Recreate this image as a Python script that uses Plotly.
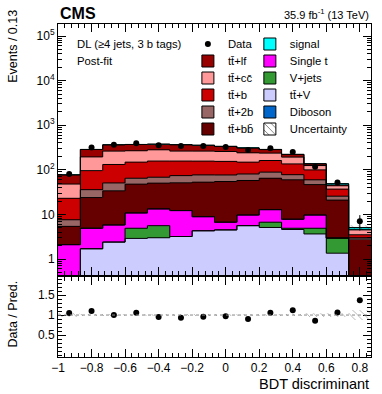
import numpy as np
import plotly.graph_objects as go
from plotly.subplots import make_subplots

# binning of the BDT output: 14 bins of width 2/15 starting at -1
x_lo = -1.0
bin_w = 2.0 / 15
n_bins = 14

# observed events per bin
data_obs = [81, 315, 365, 393, 357, 341, 342, 326, 280, 304, 250, 118, 52, 7]

# post-fit process yields per bin
ttv = [0, 1.7, 2.4, 2.9, 3.0, 3.2, 4.3, 4.5, 5.6, 5.1, 4.6, 3.65, 1.35, 0]
vjets = [0, 0, 0, 2.0, 2.6, 0, 0, 0, 0, 1.6, 0.3, 1.25, 1.6, 0]
single_t = [2.1, 3.2, 3.4, 5.9, 7.7, 9.0, 4.6, 2.2, 4.1, 6.1, 2.9, 4.8, 0, 0]
diboson = [0, 0, 0, 0, 0, 0, 0, 0, 0, 0, 0, 0, 0, 0]
ttbb = [3.3, 19, 28, 37, 37, 39, 44, 48, 48, 52, 52, 37, 18, 2.8]
tt2b = [2.2, 12, 17, 17, 18, 23, 24, 22, 23, 24, 18, 13, 4.7, 0.2]
ttb = [15.4, 60, 81, 84, 89, 83, 80, 78, 68, 73, 58, 40, 11.3, 0.5]
ttcc = [25, 99, 131, 119, 124, 106, 106, 103, 92, 75, 57, 25, 7, 1.0]
ttlf = [29, 91, 101, 102, 94, 102, 92, 77, 68, 48, 28, 11, 4, 0.15]
signal = [0.2, 0.8, 1.0, 1.2, 1.3, 1.4, 1.5, 1.7, 2.0, 2.2, 2.2, 1.8, 0.9, 0.45]

# relative total uncertainty of the prediction
unc_rel = [0.04, 0.03, 0.03, 0.03, 0.03, 0.03, 0.03, 0.03, 0.03, 0.03, 0.035, 0.04, 0.06, 0.13]

# stacking order, bottom to top
processes = [
    ("tt\u0304+V", ttv, "#CCCCFF"),
    ("V+jets", vjets, "#339933"),
    ("Single t", single_t, "#FF00FF"),
    ("Diboson", diboson, "#0066CC"),
    ("tt\u0304+bb\u0304", ttbb, "#660000"),
    ("tt\u0304+2b", tt2b, "#996666"),
    ("tt\u0304+b", ttb, "#CC0000"),
    ("tt\u0304+cc\u0304", ttcc, "#FF9999"),
    ("tt\u0304+lf", ttlf, "#990000"),
    ("signal", signal, "#00FFFF"),
]
# legend layout: two columns of six rows
legend_cols = [
    ["Data", "tt\u0304+lf", "tt\u0304+cc\u0304", "tt\u0304+b", "tt\u0304+2b", "tt\u0304+bb\u0304"],
    ["signal", "Single t", "V+jets", "tt\u0304+V", "Diboson", "Uncertainty"],
]

edges = x_lo + bin_w * np.arange(n_bins + 1)
centers = 0.5 * (edges[:-1] + edges[1:])
cum = np.cumsum(np.array([p[1] for p in processes], dtype=float), axis=0)
total = cum[-1]
data = np.array(data_obs, dtype=float)
unc = np.array(unc_rel)

FONT = "Liberation Sans, Arial, sans-serif"
fig = make_subplots(rows=2, cols=1, shared_xaxes=True)

# one legend per entry so rows can be placed like the ROOT legend
legend_id = {}
legend_layout = {}
leg_x = [0.415, 0.613]
row_y = [44, 61, 78, 95, 112, 129]  # pixel rows of the legend entries
n = 0
for c, col in enumerate(legend_cols):
    for r, name in enumerate(col):
        n += 1
        key = "legend" if n == 1 else "legend%d" % n
        legend_id[name] = key
        legend_layout[key] = dict(x=leg_x[c], y=(357 - row_y[r]) / 333.0,
                                  xanchor="left", yanchor="middle",
                                  bgcolor="rgba(0,0,0,0)", itemclick=False,
                                  font=dict(family=FONT, size=11.3, color="black"))

# filled stack (no outlines, the step lines are drawn on top)
floor = 1e-3
for k, (name, vals, color) in enumerate(processes):
    below = cum[k - 1] if k > 0 else np.zeros(n_bins)
    base = np.maximum(below, floor)
    height = np.maximum(cum[k] - base, 0)
    fig.add_trace(go.Bar(x=centers, y=height, base=base, width=bin_w,
                         marker=dict(color=color, line=dict(width=0)),
                         showlegend=False, hoverinfo="skip"), row=1, col=1)

# histogram outlines of every stacked layer
for k in range(len(processes)):
    y = np.append(cum[k], cum[k][-1])
    y = np.where(y > 0, y, floor)
    fig.add_trace(go.Scatter(x=edges, y=y, mode="lines", line_shape="hv",
                             line=dict(color="black", width=1),
                             showlegend=False, hoverinfo="skip"), row=1, col=1)

# uncertainty band on the prediction
hatch = dict(shape="\\", fgcolor="#444444", bgcolor="rgba(0,0,0,0)", size=5, solidity=0.15)
fig.add_trace(go.Bar(x=centers, y=2 * total * unc, base=total * (1 - unc), width=bin_w,
                     marker=dict(color="rgba(0,0,0,0)", line=dict(width=0), pattern=hatch),
                     showlegend=False, hoverinfo="skip"), row=1, col=1)

# data
fig.add_trace(go.Scatter(x=centers, y=data, mode="markers", name="Data",
                         marker=dict(color="black", size=6),
                         error_y=dict(type="data", array=np.sqrt(data), color="black",
                                      thickness=1, width=0),
                         legend=legend_id["Data"]), row=1, col=1)

# legend-only entries with black frames
for name, vals, color in processes:
    fig.add_trace(go.Bar(x=[None], y=[None], name=name, legend=legend_id[name],
                         marker=dict(color=color, line=dict(color="black", width=1))),
                  row=1, col=1)
fig.add_trace(go.Bar(x=[None], y=[None], name="Uncertainty", legend=legend_id["Uncertainty"],
                     marker=dict(color="white", line=dict(color="black", width=1),
                                 pattern=dict(shape="\\", fgcolor="black", size=6, solidity=0.2))),
              row=1, col=1)

# ratio panel
fig.add_trace(go.Bar(x=centers, y=2 * unc, base=1 - unc, width=bin_w,
                     marker=dict(color="rgba(0,0,0,0)", line=dict(width=0), pattern=hatch),
                     showlegend=False, hoverinfo="skip"), row=2, col=1)
fig.add_hline(y=1, line=dict(color="#888888", width=1, dash="dot"), row=2, col=1)
fig.add_trace(go.Scatter(x=centers, y=data / total, mode="markers", showlegend=False,
                         marker=dict(color="black", size=6)), row=2, col=1)

axis_style = dict(showline=True, linecolor="black", linewidth=1, mirror="allticks",
                  ticks="inside", ticklen=8, tickcolor="black", showgrid=False,
                  zeroline=False, tickfont=dict(size=12, color="black"))

minor_log = [m * 10.0 ** e for e in range(-1, 6) for m in range(2, 10)]
fig.update_yaxes(type="log", range=[-0.36, 5.27],
                 tickvals=[1, 10, 100, 1e3, 1e4, 1e5],
                 ticktext=["1", "10", "10<sup>2</sup>", "10<sup>3</sup>", "10<sup>4</sup>",
                           "10<sup>5</sup>"],
                 minor=dict(tickvals=minor_log, ticks="inside", ticklen=4, tickcolor="black"),
                 domain=[0.246, 1.0], row=1, col=1, **axis_style)
fig.update_yaxes(range=[-0.05, 1.95], tickvals=[0.5, 1, 1.5],
                 minor=dict(dtick=0.1, ticks="inside", ticklen=4, tickcolor="black"),
                 domain=[0.0, 0.240], row=2, col=1, **axis_style)
for r in (1, 2):
    fig.update_xaxes(range=[edges[0], edges[-1]], tick0=-1, dtick=0.2,
                     minor=dict(dtick=0.04, ticks="inside", ticklen=4, tickcolor="black"),
                     showticklabels=(r == 2), row=r, col=1, **axis_style)

fig.update_layout(
    width=382, height=394,
    margin=dict(l=58, r=11, t=24, b=37),
    paper_bgcolor="white", plot_bgcolor="white",
    barmode="overlay", bargap=0,
    font=dict(family=FONT, color="black"),
    **legend_layout,
)

def label(text, x, y, size, **kw):
    fig.add_annotation(text=text, xref="paper", yref="paper", x=x, y=y, showarrow=False,
                       font=dict(family=FONT, size=size, color="black"), **kw)

label("<b>CMS</b>", 0, 1.0, 16, xanchor="left", yanchor="bottom", yshift=0)
label("35.9 fb<sup>-1</sup> (13 TeV)", 1, 1.0, 11, xanchor="right", yanchor="bottom", yshift=1)
label("DL (\u22654 jets, 3 b tags)", 0.055, (357 - 44) / 333.0, 11.3,
      xanchor="left", yanchor="middle")
label("Post-fit", 0.055, (357 - 61) / 333.0, 11.3, xanchor="left", yanchor="middle")
label("Events / 0.13", -0.144, 1.05, 12.5, xanchor="center", yanchor="top", textangle=-90)
label("Data / Pred.", -0.144, 0.237, 12.5, xanchor="center", yanchor="top", textangle=-90)
label("BDT discriminant", 1.0, -0.05, 14.5, xanchor="right", yanchor="top")

# the page body has a default 8px margin; drop it so the figure sits at the window corner
fig.write_html("out.html", config={"displayModeBar": False},
               post_script="document.body.style.margin='0px';")
